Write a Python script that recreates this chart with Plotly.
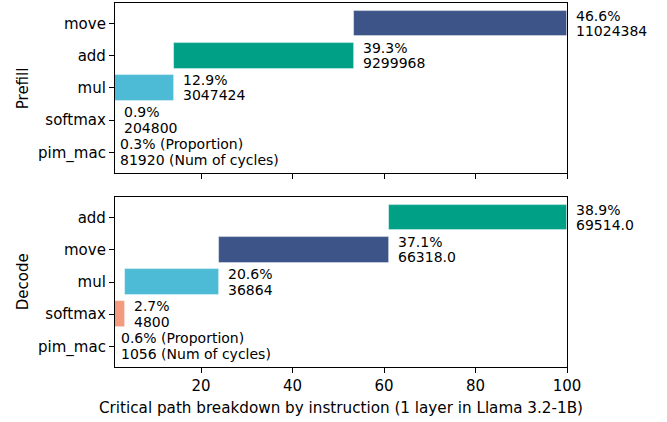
import numpy as np
import plotly.graph_objects as go
from plotly.subplots import make_subplots

# bottom -> top order
prefill_ops = ["pim_mac", "softmax", "mul", "add", "move"]
prefill_pct = [0.3, 0.9, 12.9, 39.3, 46.6]
prefill_cycles = [81920, 204800, 3047424, 9299968, 11024384]

decode_ops = ["pim_mac", "softmax", "mul", "move", "add"]
decode_pct = [0.6, 2.7, 20.6, 37.1, 38.9]
decode_cycles = [1056, 4800, 36864, 66318.0, 69514.0]

x_ticks = [20, 40, 60, 80, 100]
x_range = [1.2, 100]

colors = {"pim_mac": "#E64B35", "softmax": "#F39B7F", "mul": "#4DBBD5",
          "add": "#00A087", "move": "#3C5488"}

FONT = "DejaVu Sans"
FS = 14

L, R, T, B = 115, 100, 3, 55
W, H = 667, 422
plot_w = W - L - R
px_per_unit = plot_w / (x_range[1] - x_range[0])

fig = make_subplots(rows=2, cols=1, shared_xaxes=False, vertical_spacing=0.066)

annotations = []
for row, (ops, pct, cyc, yref) in enumerate(
        [(prefill_ops, prefill_pct, prefill_cycles, "y"),
         (decode_ops, decode_pct, decode_cycles, "y2")], start=1):
    pct_arr = np.array(pct)
    starts = np.concatenate([[0], np.cumsum(pct_arr)[:-1]])
    fig.add_trace(go.Bar(
        y=ops, x=pct_arr, base=starts, orientation="h", width=0.8,
        marker=dict(color=[colors[o] for o in ops],
                    line=dict(color="rgba(255,255,255,0.5)", width=0.8)),
        showlegend=False, hoverinfo="skip"), row=row, col=1)
    for i, o in enumerate(ops):
        end = starts[i] + pct[i]
        if i == 0:
            lines = [f"{pct[i]}% (Proportion)", f"{cyc[i]} (Num of cycles)"]
        else:
            lines = [f"{pct[i]}%", f"{cyc[i]}"]
        ax = max(end, x_range[0])
        shift = 7 - (ax - end) * px_per_unit
        for k, ln in enumerate(lines):
            annotations.append(dict(
                x=ax, y=o, xref="x" if row == 1 else "x2", yref=yref,
                text=ln, showarrow=False, xanchor="left", yanchor="middle",
                align="left", xshift=shift, yshift=8 if k == 0 else -7.5,
                font=dict(family=FONT, size=FS, color="black")))

annotations.append(dict(text="Prefill", x=-0.203, y=0.7665, xref="paper", yref="paper",
                        textangle=-90, showarrow=False, xanchor="center", yanchor="middle",
                        font=dict(family=FONT, size=15, color="black")))
annotations.append(dict(text="Decode", x=-0.203, y=0.2335, xref="paper", yref="paper",
                        textangle=-90, showarrow=False, xanchor="center", yanchor="middle",
                        font=dict(family=FONT, size=15, color="black")))
annotations.append(dict(text="Critical path breakdown by instruction (1 layer in Llama 3.2-1B)",
                        x=0.5, y=-0.113, xref="paper", yref="paper", showarrow=False,
                        xanchor="center", yanchor="middle",
                        font=dict(family=FONT, size=15.2, color="black")))

axis_common = dict(showline=True, linecolor="black", linewidth=1.2, mirror=True,
                   ticks="outside", ticklen=5, tickcolor="black", showgrid=False,
                   zeroline=False, tickfont=dict(family=FONT, size=15, color="black"))

fig.update_xaxes(range=x_range, tickvals=x_ticks, **axis_common)
fig.update_xaxes(showticklabels=False, row=1, col=1)
fig.update_yaxes(range=[-0.64, 4.64], **axis_common)
fig.update_yaxes(categoryorder="array", categoryarray=prefill_ops, row=1, col=1)
fig.update_yaxes(categoryorder="array", categoryarray=decode_ops, row=2, col=1)
fig.update_layout(
    width=W, height=H,
    margin=dict(l=L, r=R, t=T, b=B),
    plot_bgcolor="white", paper_bgcolor="white",
    annotations=annotations, bargap=0,
    font=dict(family=FONT, size=FS, color="black"),
)
fig.write_html("out.html", config={"displayModeBar": False},
               post_script="document.body.style.margin='0';")
